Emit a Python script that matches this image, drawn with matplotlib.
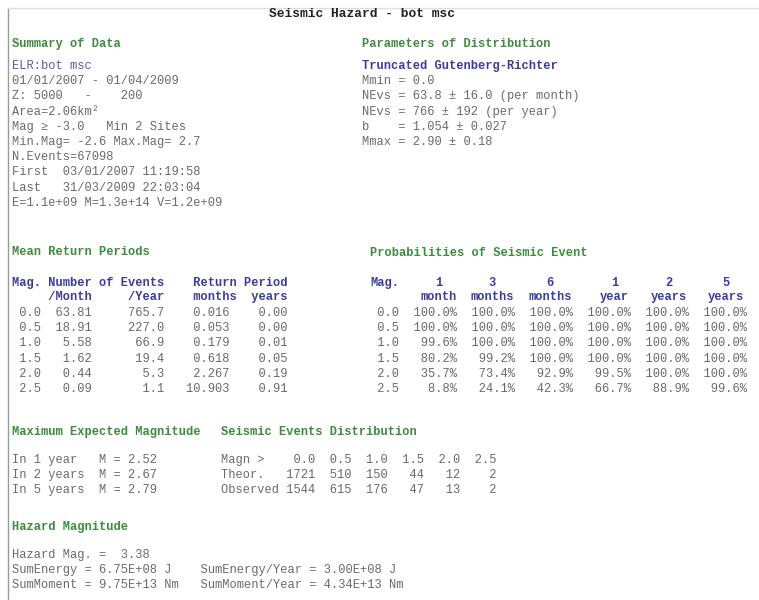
import matplotlib.pyplot as plt

# Report values
region = "bot msc"
date_start, date_end = "01/01/2007", "01/04/2009"
depth_top, depth_bottom = 5000, 200
area_km2 = 2.06
mag_cut, min_sites = -3.0, 2
min_mag, max_mag = -2.6, 2.7
n_events = 67098
first_event = "03/01/2007 11:19:58"
last_event = "31/03/2009 22:03:04"
energy, moment, volume = 1.1e9, 1.3e14, 1.2e9

mmin = 0.0
nevs_month = (63.8, 16.0)
nevs_year = (766, 192)
b_value = (1.054, 0.027)
mmax = (2.90, 0.18)

mags = [0.0, 0.5, 1.0, 1.5, 2.0, 2.5]
events_month = [63.81, 18.91, 5.58, 1.62, 0.44, 0.09]
events_year = [765.7, 227.0, 66.9, 19.4, 5.3, 1.1]
return_months = [0.016, 0.053, 0.179, 0.618, 2.267, 10.903]
return_years = [0.00, 0.00, 0.01, 0.05, 0.19, 0.91]

prob_periods = ["1", "3", "6", "1", "2", "5"]
prob_units = ["month", "months", "months", "year", "years", "years"]
prob = [
    [100.0, 100.0, 100.0, 100.0, 100.0, 100.0],
    [100.0, 100.0, 100.0, 100.0, 100.0, 100.0],
    [99.6, 100.0, 100.0, 100.0, 100.0, 100.0],
    [80.2, 99.2, 100.0, 100.0, 100.0, 100.0],
    [35.7, 73.4, 92.9, 99.5, 100.0, 100.0],
    [8.8, 24.1, 42.3, 66.7, 88.9, 99.6],
]

max_exp_years = [1, 2, 5]
max_exp_mag = [2.52, 2.67, 2.79]

dist_mags = [0.0, 0.5, 1.0, 1.5, 2.0, 2.5]
theor_counts = [1721, 510, 150, 44, 12, 2]
observed_counts = [1544, 615, 176, 47, 13, 2]

hazard_mag = 3.38
sum_energy, sum_energy_year = 6.75e8, 3.00e8
sum_moment, sum_moment_year = 9.75e13, 4.34e13

# Styles
MONO = ["Liberation Mono", "DejaVu Sans Mono"]
FS = 8.64          # 12 px at 100 dpi -> 7.2 px per character
CW = 7.2
LH = 15.2
GREEN = "#3d8c3d"
BLUE = "#3c3c9e"
GRAY = "#6a6a6a"

fig = plt.figure(figsize=(7.59, 6.0), dpi=100)
ax = fig.add_axes([0, 0, 1, 1])
ax.set_xlim(0, 759)
ax.set_ylim(600, 0)
ax.axis("off")


def put(x, y, s, color=GRAY, bold=False, size=FS, ha="left"):
    ax.text(x, y, s, color=color, family=MONO, fontsize=size,
            fontweight="bold" if bold else "normal", ha=ha, va="center")


def lines(x, y0, rows, color=GRAY):
    for i, s in enumerate(rows):
        put(x, y0 + i * LH, s, color=color)


# frame
ax.plot([8, 8], [8, 600], color="#9a9a9a", lw=1)
ax.plot([8, 759], [8, 8], color="#dddddd", lw=1)

put(362, 14, "Seismic Hazard - " + region, color="#222222", bold=True,
    size=9.3, ha="center")

# Summary of Data
L = 12
put(L, 44, "Summary of Data", color=GREEN, bold=True)
put(L, 66, "ELR:" + region, color="#5a5ab0")
summary = [
    f"{date_start} - {date_end}",
    f"Z: {depth_top}   -    {depth_bottom}",
    f"Area={area_km2:.2f}km²",
    f"Mag ≥ {mag_cut:.1f}   Min {min_sites} Sites",
    f"Min.Mag= {min_mag:.1f} Max.Mag= {max_mag:.1f}",
    f"N.Events={n_events}",
    f"First  {first_event}",
    f"Last   {last_event}",
    f"E={energy:.1e} M={moment:.1e} V={volume:.1e}",
]
lines(L, 66 + LH, summary)

# Parameters of Distribution
R = 362
put(R, 44, "Parameters of Distribution", color=GREEN, bold=True)
put(R, 66, "Truncated Gutenberg-Richter", color=BLUE, bold=True)
params = [
    f"Mmin = {mmin:.1f}",
    f"NEvs = {nevs_month[0]:.1f} ± {nevs_month[1]:.1f} (per month)",
    f"NEvs = {nevs_year[0]} ± {nevs_year[1]} (per year)",
    f"b    = {b_value[0]:.3f} ± {b_value[1]:.3f}",
    f"Mmax = {mmax[0]:.2f} ± {mmax[1]:.2f}",
]
lines(R, 66 + LH, params)

# Mean Return Periods
put(L, 252, "Mean Return Periods", color=GREEN, bold=True)
put(L, 283, "Mag. Number of Events    Return Period", color=BLUE, bold=True)
put(L, 297, "     /Month     /Year    months  years", color=BLUE, bold=True)
rows = [f"{m:4.1f}{pm:7.2f}{py:10.1f}{rm:9.3f}{ry:8.2f}"
        for m, pm, py, rm, ry in zip(mags, events_month, events_year,
                                     return_months, return_years)]
lines(L, 313, rows)

# Probabilities of Seismic Event
P = 370
put(P, 253, "Probabilities of Seismic Event", color=GREEN, bold=True)
put(P, 283, "Mag.", color=BLUE, bold=True)
for j, (per, unit) in enumerate(zip(prob_periods, prob_units)):
    right = P + (4 + 8 * (j + 1)) * CW
    put(right, 297, unit, color=BLUE, bold=True, ha="right")
    put(right - len(unit) * CW / 2, 283, per, color=BLUE, bold=True,
        ha="center")
rows = [f"{m:4.1f}" + "".join(f"{p:7.1f}%" for p in pr)
        for m, pr in zip(mags, prob)]
lines(P, 313, rows)

# Maximum Expected Magnitude
put(L, 432, "Maximum Expected Magnitude", color=GREEN, bold=True)
rows = [f"In {n} year{'s' if n > 1 else ''}".ljust(12) + f"M = {mm:.2f}"
        for n, mm in zip(max_exp_years, max_exp_mag)]
lines(L, 460, rows)

# Seismic Events Distribution
D = L + 29 * CW
put(D, 432, "Seismic Events Distribution", color=GREEN, bold=True)
rows = [
    "Magn >  " + "".join(f"{m:5.1f}" for m in dist_mags),
    "Theor.  " + "".join(f"{c:5d}" for c in theor_counts),
    "Observed" + "".join(f"{c:5d}" for c in observed_counts),
]
lines(D, 460, rows)

# Hazard Magnitude
put(L, 527, "Hazard Magnitude", color=GREEN, bold=True)
rows = [
    f"Hazard Mag. =  {hazard_mag:.2f}",
    f"SumEnergy = {sum_energy:.2E} J".ljust(26)
    + f"SumEnergy/Year = {sum_energy_year:.2E} J",
    f"SumMoment = {sum_moment:.2E} Nm".ljust(26)
    + f"SumMoment/Year = {sum_moment_year:.2E} Nm",
]
lines(L, 555, rows)

fig.savefig("out.png", dpi=100)
